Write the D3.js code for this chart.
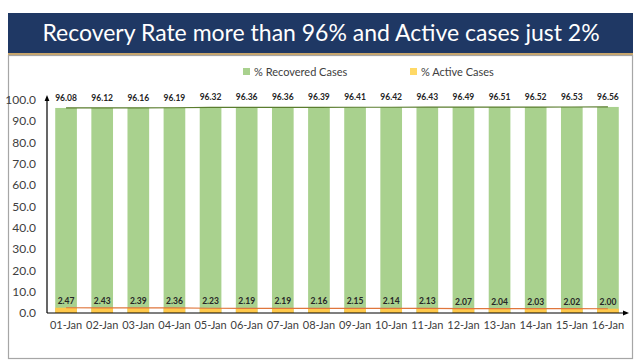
<!DOCTYPE html>
<html><head><meta charset="utf-8">
<script src="https://cdn.jsdelivr.net/npm/d3@7"></script>
<style>body{margin:0;background:#fff;}svg{display:block;}</style>
</head><body>
<svg id="c" width="641" height="363"></svg>
<script>
const categories = ["01-Jan","02-Jan","03-Jan","04-Jan","05-Jan","06-Jan","07-Jan","08-Jan","09-Jan","10-Jan","11-Jan","12-Jan","13-Jan","14-Jan","15-Jan","16-Jan"];
const recovered = [96.08,96.12,96.16,96.19,96.32,96.36,96.36,96.39,96.41,96.42,96.43,96.49,96.51,96.52,96.53,96.56];
const active = [2.47,2.43,2.39,2.36,2.23,2.19,2.19,2.16,2.15,2.14,2.13,2.07,2.04,2.03,2.02,2.00];
const yTicks = [0,10,20,30,40,50,60,70,80,90,100];
const title = "Recovery Rate more than 96% and Active cases just 2%";
const seriesNames = ["% Recovered Cases","% Active Cases"];

const svg = d3.select("#c");
const font = "Lato, 'Open Sans', sans-serif";

// banner
svg.append("rect").attr("x",8).attr("y",13).attr("width",625).attr("height",41).attr("fill","#1f3864");
svg.append("rect").attr("x",8).attr("y",53).attr("width",625).attr("height",2).attr("fill","#c9a66b");
svg.append("text").attr("x",321).attr("y",41).attr("text-anchor","middle")
  .attr("fill","#fff").attr("font-family",font).attr("font-size",23).text(title);

// box
svg.append("rect").attr("x",8.5).attr("y",55.5).attr("width",624).attr("height",303)
  .attr("fill","#fff").attr("stroke","#a6a6a6").attr("stroke-width",1.2);

const x = d3.scaleBand().domain(categories).range([48,626]).paddingInner(0.4).paddingOuter(0.2);
const y = d3.scaleLinear().domain([0,100]).range([313,99.6]);

// legend
const leg = [{n:seriesNames[0],c:"#a9d18e",x:243},{n:seriesNames[1],c:"#ffd966",x:410}];
leg.forEach(l=>{
  svg.append("rect").attr("x",l.x).attr("y",68).attr("width",7).attr("height",7).attr("fill",l.c);
  svg.append("text").attr("x",l.x+11).attr("y",75.5).attr("font-family",font).attr("font-size",11)
    .attr("fill","#404040").text(l.n);
});

// bars
svg.selectAll(".rb").data(recovered).enter().append("rect")
  .attr("x",(d,i)=>x(categories[i])).attr("width",x.bandwidth())
  .attr("y",d=>y(d)).attr("height",d=>y(0)-y(d)).attr("fill","#a9d18e");
svg.selectAll(".ab").data(active).enter().append("rect")
  .attr("x",(d,i)=>x(categories[i])).attr("width",x.bandwidth())
  .attr("y",d=>y(d)).attr("height",d=>y(0)-y(d)).attr("fill","#ffc84a");

// lines
const cx = (d,i)=>x(categories[i])+x.bandwidth()/2;
svg.append("path").datum(recovered).attr("fill","none").attr("stroke","#5a7d2e").attr("stroke-width",1.2)
  .attr("d",d3.line().x(cx).y(d=>y(d)));
svg.append("path").datum(active).attr("fill","none").attr("stroke","#e0763c").attr("stroke-width",1.2)
  .attr("d",d3.line().x(cx).y(d=>y(d)));

// labels
svg.selectAll(".rl").data(recovered).enter().append("text")
  .attr("x",cx).attr("y",d=>y(d)-7).attr("text-anchor","middle")
  .attr("font-family",font).attr("font-size",8.5).attr("font-weight","bold").attr("fill","#262626")
  .text(d=>d.toFixed(2));
svg.selectAll(".al").data(active).enter().append("text")
  .attr("x",cx).attr("y",d=>y(d)-4).attr("text-anchor","middle")
  .attr("font-family",font).attr("font-size",8.5).attr("font-weight","bold").attr("fill","#262626")
  .text(d=>d.toFixed(2));

// axes
svg.append("defs").append("marker").attr("id","arr").attr("viewBox","0 0 10 10").attr("refX",5).attr("refY",5)
  .attr("markerWidth",5).attr("markerHeight",5).attr("orient","auto")
  .append("path").attr("d","M0,1 L10,5 L0,9 z").attr("fill","#000");
svg.append("line").attr("x1",47).attr("x2",47).attr("y1",313).attr("y2",98)
  .attr("stroke","#000").attr("stroke-width",1.2).attr("marker-end","url(#arr)");
svg.append("line").attr("x1",47).attr("x2",626).attr("y1",313).attr("y2",313)
  .attr("stroke","#000").attr("stroke-width",1.2).attr("marker-end","url(#arr)");

const ya = svg.append("g").attr("transform","translate(36,0)")
  .call(d3.axisLeft(y).tickValues(yTicks).tickSize(0).tickPadding(0).tickFormat(d3.format(".1f")));
ya.select(".domain").remove();
ya.selectAll("text").attr("font-family",font).attr("font-size",12).attr("fill","#404040");

const xa = svg.append("g").attr("transform","translate(0,313)")
  .call(d3.axisBottom(x).tickSize(0).tickPadding(8));
xa.select(".domain").remove();
xa.selectAll("text").attr("font-family",font).attr("font-size",11).attr("fill","#404040");
</script>
</body></html>
